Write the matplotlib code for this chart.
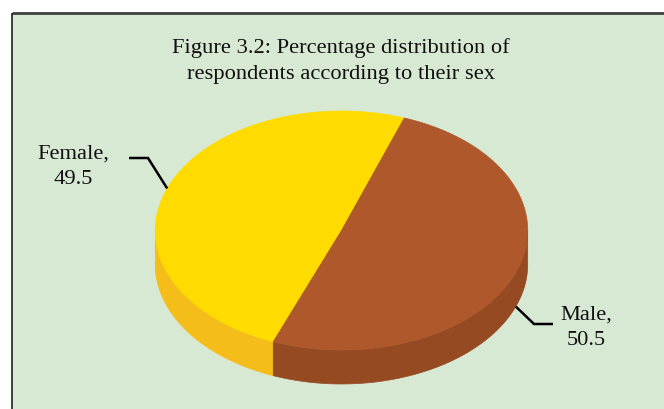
import numpy as np
import matplotlib
matplotlib.use("Agg")
import matplotlib.pyplot as plt
from matplotlib.patches import Polygon, Rectangle

# ---- data ----
categories = ["Female", "Male"]
values = [49.5, 50.5]
title_text = "Figure 3.2: Percentage distribution of\nrespondents according to their sex"

top_colors = ["#FFDB00", "#AF582C"]
side_colors = ["#F5BD19", "#964A22"]

W, H = 664, 410
fig = plt.figure(figsize=(W / 100, H / 100), dpi=100)
fig.patch.set_facecolor("white")
ax = fig.add_axes([0, 0, 1, 1])
ax.set_xlim(0, W)
ax.set_ylim(H, 0)
ax.axis("off")

# chart area box
ax.add_patch(Rectangle((11.5, 13.5), 700, 450, facecolor="#D8E9D3",
                       edgecolor="none", zorder=0))
ax.plot([11.5, W], [13.5, 13.5], color="#404040", lw=2.0, zorder=1,
        solid_capstyle="butt")
ax.plot([11.5, 11.5], [13.5, H], color="#202020", lw=1.2, zorder=1,
        solid_capstyle="butt")

ax.text(341, 61, title_text, ha="center", va="center", fontsize=16.2,
        family="Liberation Serif", linespacing=1.52, color="#111111")

# 3D pie geometry
cx, cy, a, b, depth = 341.5, 231.5, 186.2, 119.5, 34
start = 201.5  # degrees clockwise from top


def pt(theta_deg, dy=0.0):
    t = np.radians(theta_deg)
    return cx + a * np.sin(t), cy - b * np.cos(t) + dy


total = sum(values)
angles = []
s = start
for v in values:
    e = s + 360.0 * v / total
    angles.append((s, e))
    s = e

# side walls (visible front half: 90..270 deg, mod 360)
for (s0, e0), col in zip(angles, side_colors):
    for shift in (-360, 0, 360):
        lo = max(s0 + shift, 90)
        hi = min(e0 + shift, 270)
        if hi > lo:
            th = np.linspace(lo, hi, 100)
            xs, ys = pt(th)
            xb, yb = pt(th[::-1], depth)
            poly = np.column_stack([np.r_[xs, xb], np.r_[ys, yb]])
            ax.add_patch(Polygon(poly, closed=True, facecolor=col,
                                 edgecolor=col, lw=0.5, zorder=2))

# top wedges
for (s0, e0), col in zip(angles, top_colors):
    th = np.linspace(s0, e0, 300)
    xs, ys = pt(th)
    poly = np.column_stack([np.r_[cx, xs], np.r_[cy, ys]])
    ax.add_patch(Polygon(poly, closed=True, facecolor=col, edgecolor=col,
                         lw=0.5, zorder=3))

# labels with leader lines
label_specs = [
    dict(text=(73, 167), elbow=(148, 159), hend=(129, 159)),
    dict(text=(586, 328), elbow=(534, 325), hend=(553, 325)),
]
for (s0, e0), cat, val, spec in zip(angles, categories, values, label_specs):
    mid = (s0 + e0) / 2.0
    mx, my = pt(mid)
    if np.cos(np.radians(mid)) < 0:
        my += depth
    ax.plot([mx, spec["elbow"][0], spec["hend"][0]],
            [my, spec["elbow"][1], spec["hend"][1]],
            color="black", lw=1.8, zorder=4, solid_capstyle="butt",
            solid_joinstyle="miter")
    ax.text(spec["text"][0], spec["text"][1], f"{cat},\n{val:g}",
            ha="center", va="center", fontsize=16.2,
            family="Liberation Serif", linespacing=1.5, color="#111111",
            zorder=5)

fig.savefig("out.png", dpi=100, facecolor=fig.get_facecolor())
